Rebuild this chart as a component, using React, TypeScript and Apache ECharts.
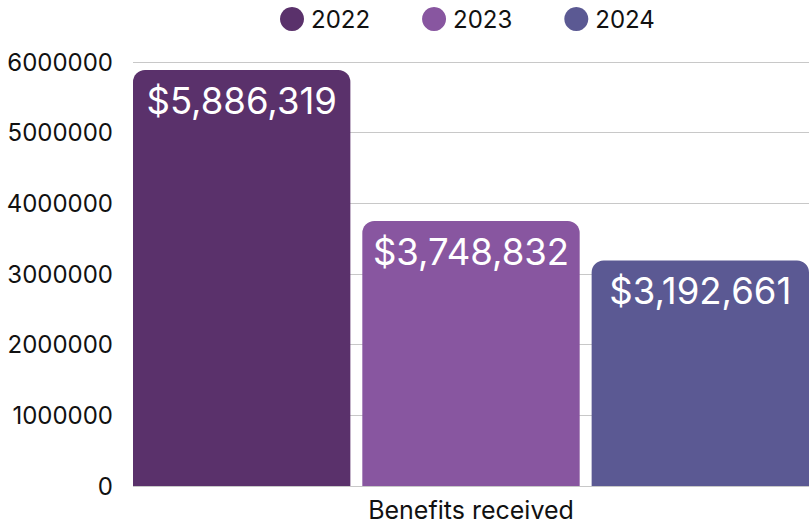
import React, { useEffect, useRef } from "react";
import * as echarts from "echarts";

const categories = ["Benefits received"];
const seriesNames = ["2022", "2023", "2024"];
const values2022 = [5886319];
const values2023 = [3748832];
const values2024 = [3192661];
const yTicks = [0, 1000000, 2000000, 3000000, 4000000, 5000000, 6000000];
const colors = ["#5a316b", "#8856a0", "#5b5993"];

const FONT = "Inter, 'Noto Sans', sans-serif";

export default function App() {
  const ref = useRef<HTMLDivElement>(null);
  useEffect(() => {
    document.body.style.margin = "0";
    const chart = echarts.init(ref.current!, null, { renderer: "svg" });
    const fmt = (v: number) => "$" + v.toLocaleString("en-US");
    const data = [values2022, values2023, values2024];
    chart.setOption({
      animation: false,
      textStyle: { fontFamily: FONT },
      color: colors,
      legend: {
        top: 2,
        left: 275,
        itemWidth: 24,
        itemHeight: 24,
        itemGap: 52,
        icon: "circle",
        textStyle: { fontSize: 24, color: "#111", fontFamily: FONT, padding: [0, 0, 0, 2] },
        data: seriesNames,
      },
      grid: { left: 133, right: 0, top: 62, bottom: 39 },
      xAxis: {
        type: "category",
        data: categories,
        axisLine: { show: false },
        axisTick: { show: false },
        axisLabel: { fontSize: 25, color: "#111", margin: 11, fontFamily: FONT },
      },
      yAxis: {
        type: "value",
        min: yTicks[0],
        max: yTicks[yTicks.length - 1],
        interval: 1000000,
        axisLine: { show: false },
        axisTick: { show: false },
        splitLine: { lineStyle: { color: "#c8c8c8", width: 1 } },
        axisLabel: {
          fontSize: 24,
          color: "#111",
          margin: 20,
          fontFamily: FONT,
          formatter: (v: number) => String(v),
        },
      },
      series: seriesNames.map((name, i) => ({
        name,
        type: "bar",
        data: data[i],
        barCategoryGap: "0%",
        barGap: "5.5%",
        itemStyle: { color: colors[i], borderRadius: [12, 12, 0, 0] },
        label: {
          show: true,
          position: "insideTop",
          distance: 12,
          color: "#fff",
          fontSize: 36.5,
          fontFamily: FONT,
          formatter: (p: any) => fmt(p.value),
        },
      })),
    });
    return () => chart.dispose();
  }, []);
  return <div ref={ref} style={{ width: 809, height: 525 }} />;
}
